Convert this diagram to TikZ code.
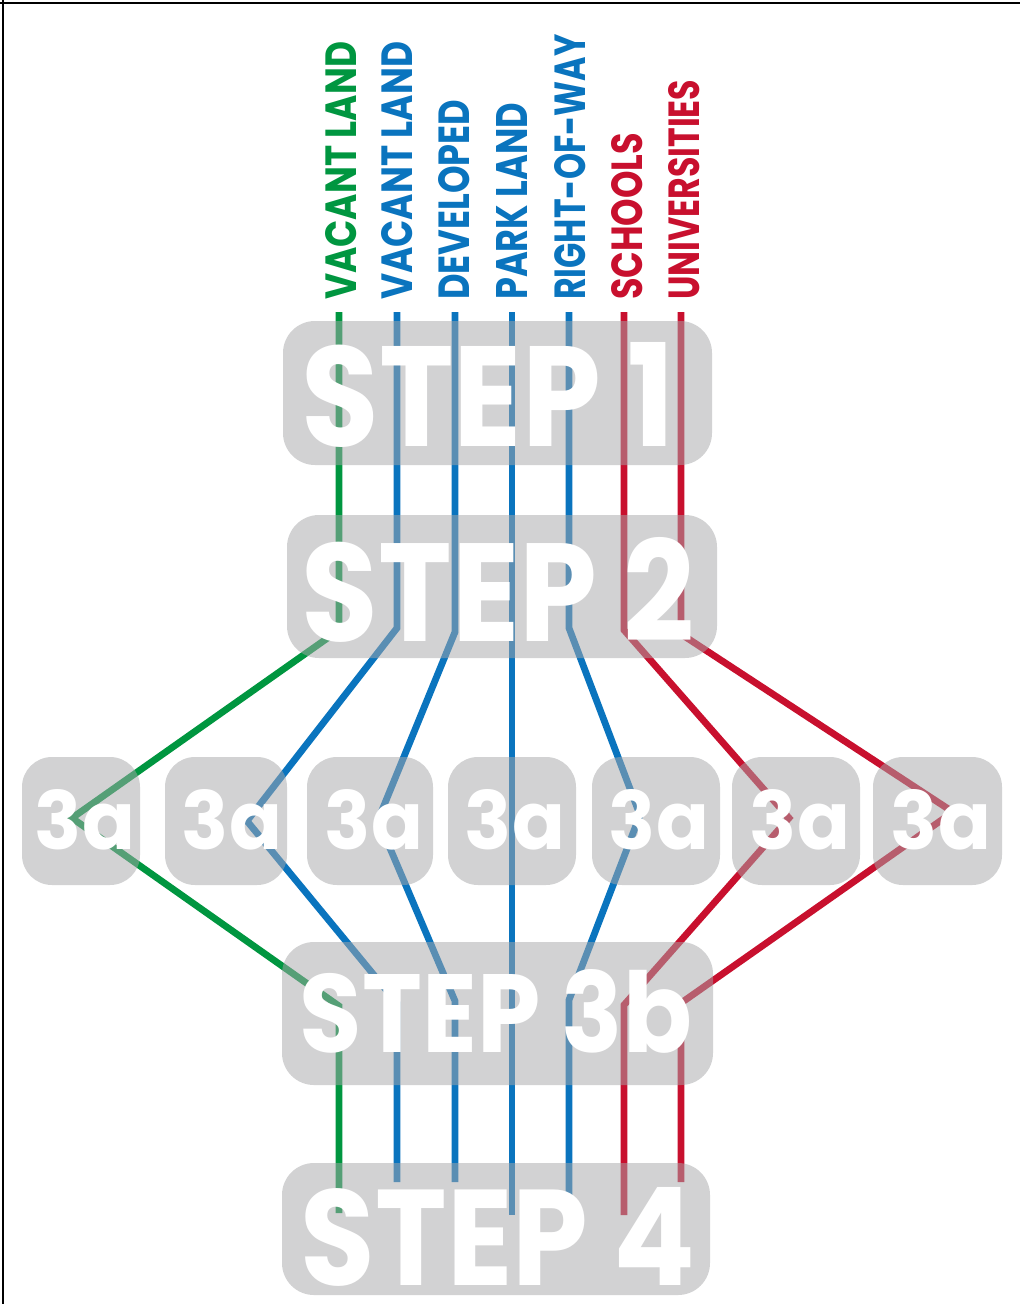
\documentclass[tikz,border=0pt]{standalone}
\usepackage{fontspec}
\usepackage{graphicx}
\newfontfamily\pop{Poppins}
\definecolor{lgreen}{RGB}{0,150,64}
\definecolor{lblue}{RGB}{10,116,190}
\definecolor{lred}{RGB}{200,16,46}
\definecolor{boxgray}{RGB}{167,168,170}
\newcommand{\fitt}[3]{\resizebox{#1pt}{#2pt}{\pop\bfseries #3}}
\begin{document}
\begin{tikzpicture}[x=1pt,y=-1pt,
  flow/.style={line width=6.8pt, line join=miter},
  gbox/.style={fill=boxgray, fill opacity=0.51, draw=none, rounded corners=#1, inner sep=0pt},
  gbox/.default=30pt,
  wtxt/.style={text=white, inner sep=0pt, anchor=center},
  lab/.style={rotate=90, anchor=west, inner sep=0pt}]
\useasboundingbox (0,0) rectangle (1021,1304);
\fill[white] (0,0) rectangle (1021,1304);
% frame
\draw[line width=2.5pt, black] (0,3) -- (1020,3);
\draw[line width=2.5pt, black] (3,0) -- (3,1304);

% labels
\node[lab, text=lgreen] (lg)  at (341,300) {\fitt{258}{31}{VACANT LAND}};
\node[lab, text=lblue]  (lb1) at (397,300) {\fitt{258}{31}{VACANT LAND}};
\node[lab, text=lblue]  (lb2) at (454,300) {\fitt{200}{31}{DEVELOPED}};
\node[lab, text=lblue]  (lb3) at (512,300) {\fitt{197}{31}{PARK LAND}};
\node[lab, text=lblue]  (lb4) at (570,300) {\fitt{265}{31}{RIGHT-OF-WAY}};
\node[lab, text=lred]   (lr1) at (627,300) {\fitt{167}{31}{SCHOOLS}};
\node[lab, text=lred]   (lr2) at (684,300) {\fitt{220}{31}{UNIVERSITIES}};

% route points
\coordinate (g0) at (339,312); \coordinate (g1) at (339,630); \coordinate (g2) at (72,818);
\coordinate (g3) at (339,1006); \coordinate (g4) at (339,1213);
\coordinate (a0) at (397,312); \coordinate (a1) at (397,628); \coordinate (a2) at (247,821);
\coordinate (a3) at (397,1003); \coordinate (a4) at (397,1182);
\coordinate (b0) at (455,312); \coordinate (b1) at (455,632); \coordinate (b2) at (378,820);
\coordinate (b3) at (455,1001); \coordinate (b4) at (455,1182);
\coordinate (c0) at (512,312); \coordinate (c4) at (512,1215);
\coordinate (d0) at (569,312); \coordinate (d1) at (569,628); \coordinate (d2) at (640,815);
\coordinate (d3) at (569,1000); \coordinate (d4) at (569,1197);
\coordinate (r0) at (624,312); \coordinate (r1) at (624,630); \coordinate (r2) at (789,818);
\coordinate (r3) at (624,1005); \coordinate (r4) at (624,1215);
\coordinate (u0) at (681,312); \coordinate (u1) at (681,634); \coordinate (u2) at (953,812);
\coordinate (u3) at (681,1003); \coordinate (u4) at (681,1182);

\draw[flow, lgreen] (g0) -- (g1) -- (g2) -- (g3) -- (g4);
\draw[flow, lblue] (a0) -- (a1) -- (a2) -- (a3) -- (a4);
\draw[flow, lblue] (b0) -- (b1) -- (b2) -- (b3) -- (b4);
\draw[flow, lblue] (c0) -- (c4);
\draw[flow, lblue] (d0) -- (d1) -- (d2) -- (d3) -- (d4);
\draw[flow, lred] (r0) -- (r1) -- (r2) -- (r3) -- (r4);
\draw[flow, lred] (u0) -- (u1) -- (u2) -- (u3) -- (u4);

% step boxes
\node[gbox=32pt, minimum width=429pt, minimum height=144pt] (s1) at (497.5,393) {};
\node[gbox=32pt, minimum width=430pt, minimum height=143pt] (s2) at (502,586.5) {};
\node[gbox=32pt, minimum width=431pt, minimum height=143pt] (s3b) at (497.5,1013.5) {};
\node[gbox=32pt, minimum width=428pt, minimum height=132pt] (s4) at (496,1229) {};
% 3a boxes
\node[gbox, minimum width=118pt, minimum height=128pt] (k1) at (81,821) {};
\node[gbox, minimum width=122pt, minimum height=128pt] (k2) at (226,821) {};
\node[gbox, minimum width=126pt, minimum height=128pt] (k3) at (370,821) {};
\node[gbox, minimum width=128pt, minimum height=128pt] (k4) at (512,821) {};
\node[gbox, minimum width=128pt, minimum height=128pt] (k5) at (656,821) {};
\node[gbox, minimum width=128pt, minimum height=128pt] (k6) at (796,821) {};
\node[gbox, minimum width=129pt, minimum height=128pt] (k7) at (937.5,821) {};

% texts
\node[wtxt] (t1) at (488.5,395) {\fitt{373}{104}{STEP 1}};
\node[wtxt] (t2) at (498.5,590) {\fitt{393}{104}{STEP 2}};
\node[wtxt] (t3b) at (496,1011.5) {\fitt{392}{83}{STEP 3b}};
\node[wtxt] (t4) at (498.5,1237) {\fitt{395}{98}{STEP 4}};
\node[wtxt] (q1) at (85,820) {\fitt{100}{60}{3a}};
\node[wtxt] (q2) at (232,820) {\fitt{100}{60}{3a}};
\node[wtxt] (q3) at (374,820) {\fitt{98}{60}{3a}};
\node[wtxt] (q4) at (515,820) {\fitt{100}{60}{3a}};
\node[wtxt] (q5) at (659,820) {\fitt{100}{60}{3a}};
\node[wtxt] (q6) at (800,820) {\fitt{100}{60}{3a}};
\node[wtxt] (q7) at (941,820) {\fitt{100}{60}{3a}};
\end{tikzpicture}
\end{document}
